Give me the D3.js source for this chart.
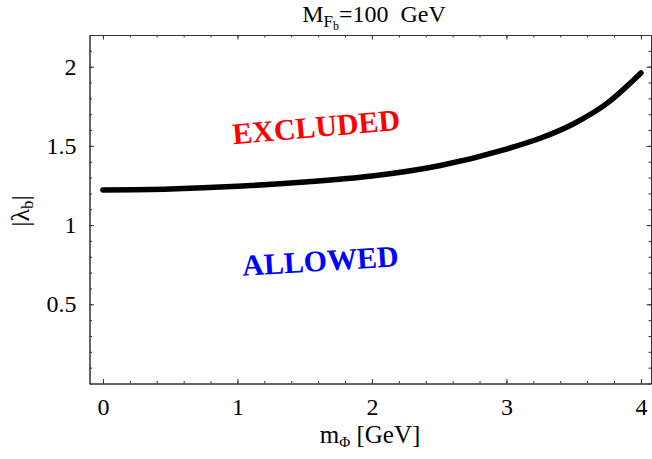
<!doctype html>
<html>
<head>
    <style>
        body { margin: 0; background: #fff; }
        text { font-family: 'Liberation Serif', 'Times New Roman', serif; fill: #000; }
        .frame path.domain { stroke: #333; }
        .tick line { stroke: #333; }
    </style>
    <script src="https://d3js.org/d3.v7.min.js"></script>
</head>
<body>
    <script>
        // curve |lambda_b| vs m_Phi
        var mPhi    = [0, 0.5, 1, 1.5, 2, 2.5, 3, 3.25, 3.5, 3.75, 4];
        var lambdaB = [1.222, 1.228, 1.245, 1.272, 1.31, 1.375, 1.48, 1.548, 1.64, 1.77, 1.96];

        var xMajor = [0, 1, 2, 3, 4];
        var yMajor = [0.5, 1, 1.5, 2];
        var xMinor = d3.range(0, 4.01, 0.2);
        var yMinor = d3.range(0, 2.21, 0.1);

        var W = 652, H = 459;
        var pLeft = 89.5, pRight = 651, pTop = 35, pBottom = 383.5;

        var x = d3.scaleLinear().domain([-0.1, 4.075]).range([pLeft, pRight]);
        var y = d3.scaleLinear().domain([0, 2.2]).range([pBottom, pTop]);

        var svg = d3.select("body").append("svg").attr("width", W).attr("height", H);

        // frame + ticks (inward, Mathematica style)
        function fmt(d) { return String(d); }

        function frame(axis, tx, ty) {
            return svg.append("g").attr("class", "frame")
                .attr("transform", "translate(" + tx + "," + ty + ")")
                .call(axis.tickSizeOuter(0))
                .attr("font-family", "'Liberation Serif', serif")
                .attr("font-size", 24);
        }

        frame(d3.axisBottom(x).tickValues(xMinor).tickSizeInner(-2.5).tickFormat(""), 0, pBottom);
        frame(d3.axisBottom(x).tickValues(xMajor).tickSizeInner(-4.5).tickPadding(14).tickFormat(fmt), 0, pBottom);
        frame(d3.axisTop(x).tickValues(xMinor).tickSizeInner(-2.5).tickFormat(""), 0, pTop);
        frame(d3.axisTop(x).tickValues(xMajor).tickSizeInner(-4.5).tickFormat(""), 0, pTop);
        frame(d3.axisLeft(y).tickValues(yMinor).tickSizeInner(-2.5).tickFormat(""), pLeft, 0);
        frame(d3.axisLeft(y).tickValues(yMajor).tickSizeInner(-4.5).tickPadding(13).tickFormat(fmt), pLeft, 0);
        frame(d3.axisRight(y).tickValues(yMinor).tickSizeInner(-2.5).tickFormat(""), pRight, 0);
        frame(d3.axisRight(y).tickValues(yMajor).tickSizeInner(-4.5).tickFormat(""), pRight, 0);

        svg.selectAll(".frame .tick text").attr("fill", "#000");

        // the curve
        var pts = mPhi.map(function (m, i) { return [m, lambdaB[i]]; });
        var line = d3.line().x(function (d) { return x(d[0]); }).y(function (d) { return y(d[1]); })
            .curve(d3.curveMonotoneX);
        svg.append("path").datum(pts)
            .attr("d", line)
            .attr("fill", "none")
            .attr("stroke", "#000")
            .attr("stroke-width", 5.5)
            .attr("stroke-linecap", "round");

        // region labels
        svg.append("text")
            .attr("transform", "translate(317,137) rotate(-5)")
            .attr("text-anchor", "middle")
            .style("font-size", "30px").style("font-weight", "bold")
            .style("fill", "#ff0000")
            .text("EXCLUDED");
        svg.append("text")
            .attr("transform", "translate(321,271) rotate(-3.5)")
            .attr("text-anchor", "middle")
            .style("font-size", "30px").style("font-weight", "bold")
            .style("fill", "#0000ff")
            .text("ALLOWED");

        // title
        var title = svg.append("text")
            .attr("x", 374).attr("y", 22)
            .attr("text-anchor", "middle")
            .style("font-size", "24px")
            .style("white-space", "pre");
        title.append("tspan").text("M");
        title.append("tspan").attr("dy", 5).style("font-size", "17px").text("F");
        title.append("tspan").attr("dy", 3).style("font-size", "12px").text("b");
        title.append("tspan").attr("dy", -8).text("=100  GeV");

        // x label
        var xl = svg.append("text")
            .attr("x", 370).attr("y", 443)
            .attr("text-anchor", "middle")
            .style("font-size", "25px")
            .style("white-space", "pre");
        xl.append("tspan").text("m");
        xl.append("tspan").attr("dy", 4).style("font-size", "15px").text("\u03A6");
        xl.append("tspan").attr("dy", -4).text(" [GeV]");

        // y label
        var yl = svg.append("text")
            .attr("transform", "translate(29,211) rotate(-90)")
            .attr("text-anchor", "middle")
            .style("font-size", "26px");
        yl.append("tspan").text("|\u03BB");
        yl.append("tspan").attr("dy", 4).style("font-size", "17px").text("b");
        yl.append("tspan").attr("dy", -4).text("|");
    </script>
</body>
</html>
